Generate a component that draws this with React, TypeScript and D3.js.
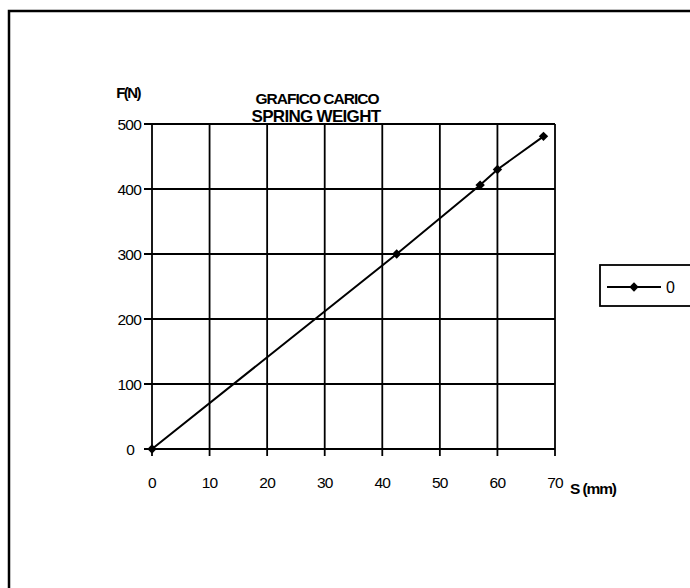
import React, { useEffect, useRef } from 'react';
import * as d3 from 'd3';

// spring load curve: stroke S (mm) vs load F (N)
const strokeMm = [0, 42.5, 57, 60, 68];
const loadN = [0, 300, 406, 430, 481];
const xTicks = [0, 10, 20, 30, 40, 50, 60, 70];
const yTicks = [0, 100, 200, 300, 400, 500];
const seriesName = '0';

const App = () => {
  const ref = useRef<SVGSVGElement>(null);

  useEffect(() => {
    const svg = d3.select(ref.current);
    svg.selectAll('*').remove();
    const font = '"Liberation Sans", Arial, sans-serif';

    // outer frame (runs off the right and bottom of the page)
    svg.append('rect')
      .attr('x', 9).attr('y', 11)
      .attr('width', 700).attr('height', 600)
      .attr('fill', 'none').attr('stroke', '#000').attr('stroke-width', 2.5);

    const x = d3.scaleLinear().domain([0, 70]).range([152, 555]);
    const y = d3.scaleLinear().domain([0, 500]).range([449, 124]);

    const g = svg.append('g');

    // grid + ticks
    xTicks.forEach((t) => {
      g.append('line')
        .attr('x1', x(t)).attr('x2', x(t))
        .attr('y1', y(500)).attr('y2', y(0) + 7)
        .attr('stroke', '#000').attr('stroke-width', 1.8);
      g.append('text')
        .attr('x', x(t)).attr('y', 488)
        .attr('text-anchor', 'middle')
        .attr('font-family', font).attr('font-size', 15.5)
        .attr('letter-spacing', -0.8)
        .text(t);
    });
    yTicks.forEach((t) => {
      g.append('line')
        .attr('x1', x(0) - 8).attr('x2', x(70))
        .attr('y1', y(t)).attr('y2', y(t))
        .attr('stroke', '#000').attr('stroke-width', t === 100 || t === 0 ? 2.2 : 1.8);
      g.append('text')
        .attr('x', t === 0 ? 134 : 141).attr('y', y(t) + 6)
        .attr('text-anchor', 'end')
        .attr('font-family', font).attr('font-size', 15.5)
        .attr('letter-spacing', -0.8)
        .text(t);
    });

    // data line
    const pts = strokeMm.map((s, i) => [s, loadN[i]] as [number, number]);
    const line = d3.line<[number, number]>().x((d) => x(d[0])).y((d) => y(d[1]));
    g.append('path')
      .datum(pts)
      .attr('d', line)
      .attr('fill', 'none').attr('stroke', '#000').attr('stroke-width', 2);

    const diamond = d3.symbol().type(d3.symbolSquare).size(44);
    g.selectAll('path.pt')
      .data(pts)
      .enter()
      .append('path')
      .attr('class', 'pt')
      .attr('d', diamond)
      .attr('transform', (d) => `translate(${x(d[0])},${y(d[1])}) rotate(45)`)
      .attr('fill', '#000');

    // titles
    svg.append('text')
      .attr('x', 317).attr('y', 104)
      .attr('text-anchor', 'middle')
      .attr('font-family', font).attr('font-size', 15.5).attr('font-weight', 'bold')
      .attr('letter-spacing', -1)
      .text('GRAFICO CARICO');
    svg.append('text')
      .attr('x', 316).attr('y', 122)
      .attr('text-anchor', 'middle')
      .attr('font-family', font).attr('font-size', 17).attr('font-weight', 'bold')
      .attr('letter-spacing', -0.7)
      .text('SPRING WEIGHT');
    svg.append('text')
      .attr('x', 128).attr('y', 98)
      .attr('text-anchor', 'middle')
      .attr('font-family', font).attr('font-size', 15).attr('font-weight', 'bold')
      .attr('letter-spacing', -1.6)
      .text('F(N)');
    svg.append('text')
      .attr('x', 570).attr('y', 494)
      .attr('font-family', font).attr('font-size', 15.5).attr('font-weight', 'bold')
      .attr('letter-spacing', -1.1)
      .text('S (mm)');

    // legend
    const lg = svg.append('g');
    lg.append('rect')
      .attr('x', 600).attr('y', 265)
      .attr('width', 100).attr('height', 41)
      .attr('fill', '#fff').attr('stroke', '#000').attr('stroke-width', 1.8);
    lg.append('line')
      .attr('x1', 607).attr('x2', 661).attr('y1', 287).attr('y2', 287)
      .attr('stroke', '#000').attr('stroke-width', 2);
    lg.append('path')
      .attr('d', diamond)
      .attr('transform', 'translate(634,287) rotate(45)')
      .attr('fill', '#000');
    lg.append('text')
      .attr('x', 666).attr('y', 293)
      .attr('font-family', font).attr('font-size', 16)
      .text(seriesName);
  }, []);

  return (
    <div style={{ position: 'absolute', left: 0, top: 0 }}>
      <svg ref={ref} width={690} height={588} style={{ display: 'block', background: '#fff' }} />
    </div>
  );
};

export default App;
